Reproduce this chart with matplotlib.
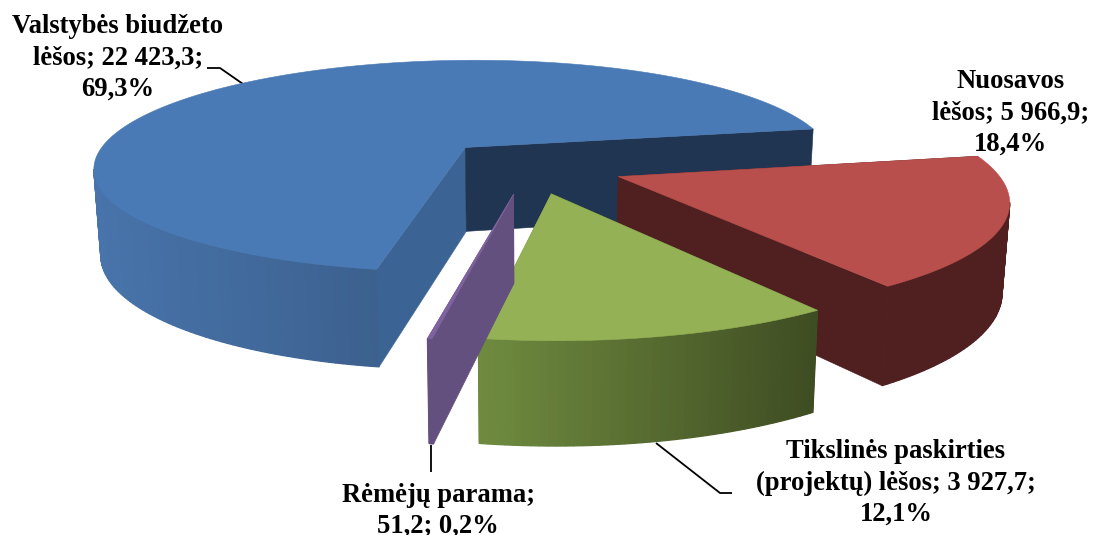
import numpy as np
import matplotlib
matplotlib.use("Agg")
import matplotlib.pyplot as plt
from matplotlib.colors import to_rgb

# --- data ---
categories = ["Nuosavos lėšos", "Tikslinės paskirties (projektų) lėšos", "Rėmėjų parama", "Valstybės biudžeto lėšos"]
values = [5966.9, 3927.7, 51.2, 22423.3]
percent = [18.4, 12.1, 0.2, 69.3]
label_texts = ["Nuosavos\nlėšos; 5 966,9;\n18,4%",
               "Tikslinės paskirties\n(projektų) lėšos; 3 927,7;\n12,1%",
               "Rėmėjų parama;\n51,2; 0,2%",
               "Valstybės biudžeto\nlėšos; 22 423,3;\n69,3%"]

# --- style ---
top_col = ["#b84f4c", "#94b156", "#7f63a1", "#4a7ab5"]
wall_left = ["#4f201f", "#708c40", "#64507f", "#4874ab"]
wall_right = ["#4f201f", "#3f4d22", "#64507f", "#3c618f"]
cut_start = ["#4f201f", "#3f4d22", "#64507f", "#3b6494"]
cut_end = ["#4f201f", "#708c40", "#64507f", "#1f3552"]
label_pos = [(1011, 113), (896, 483), (438, 511), (118, 58)]
leaders = [None, [(656, 443), (720, 493), (732, 493)], [(431, 445), (431, 472)],
           [(207, 68), (220, 68), (243, 84)]]

# projection
VX, VY, RX, RY, HT, PERSP, EXPL = 530, 166, 375, 109, 86, 0.18, 0.25
HT_PERSP = 0.8
TAPER = 0.016
START_DEG = 10.75


def project(x, y, z):
    s = 1.0 / (1.0 + PERSP * y)
    return VX + RX * x * s * (1 - TAPER * z), VY - RY * y * s + HT * z * s ** HT_PERSP


def mix(a, b, t):
    a, b = np.array(to_rgb(a)), np.array(to_rgb(b))
    return tuple(a + (b - a) * t)


fig = plt.figure(figsize=(11, 5.35), dpi=100)
ax = fig.add_axes([0, 0, 1, 1])
ax.set_xlim(0, 1100)
ax.set_ylim(535, 0)
ax.axis("off")


def poly(pts, col, z, lw=0.4):
    xs, ys = zip(*pts)
    ax.fill(xs, ys, facecolor=col, edgecolor=col, lw=lw, zorder=z)


total = sum(values)
angle = START_DEG
spans = []
for v in values:
    sweep = 360.0 * v / total
    spans.append((angle, angle - sweep))
    angle -= sweep

for order, i in enumerate([3, 0, 1, 2]):
    a0, a1 = spans[i]
    mid = np.radians((a0 + a1) / 2)
    cx, cy = EXPL * np.cos(mid), EXPL * np.sin(mid)
    th = np.radians(np.linspace(a0, a1, max(4, int(abs(a0 - a1)))))
    px = cx + np.cos(th)
    py = cy + np.sin(th)
    base = 10 * (order + 1)
    top_pts = [project(x, y, 0) for x, y in zip(px, py)]
    bot_pts = [project(x, y, 1) for x, y in zip(px, py)]
    xs = np.array([p[0] for p in top_pts])
    # a wall facet shows when it faces the camera
    camera_y = -1.0 / PERSP
    visible = np.cos(th) * (0 - px) + np.sin(th) * (camera_y - py) > 0
    # cut faces under everything else of the slice
    for edge, col in ((0, cut_start[i]), (-1, cut_end[i])):
        poly([project(cx, cy, 0), top_pts[edge], bot_pts[edge], project(cx, cy, 1)], col, base)
    fmin, fmax = xs[visible].min(), xs[visible].max()
    for k in range(len(th) - 1):
        if not visible[k] and not visible[k + 1]:
            continue
        t = np.clip((xs[k] - fmin) / max(fmax - fmin, 1), 0, 1)
        poly([top_pts[k], top_pts[k + 1], bot_pts[k + 1], bot_pts[k]],
             mix(wall_left[i], wall_right[i], t), base + 1, lw=0.9)
    poly([project(cx, cy, 0)] + top_pts, top_col[i], base + 2)

for pts in leaders:
    if pts:
        ax.plot(*zip(*pts), color="black", lw=1.3, zorder=2, solid_capstyle="butt")

for txt, (x, y) in zip(label_texts, label_pos):
    ax.text(x, y, txt, ha="center", va="center", family="Liberation Serif",
            weight="bold", fontsize=19.2, linespacing=1.33, color="black", zorder=100)

fig.savefig("out.png", dpi=100)
